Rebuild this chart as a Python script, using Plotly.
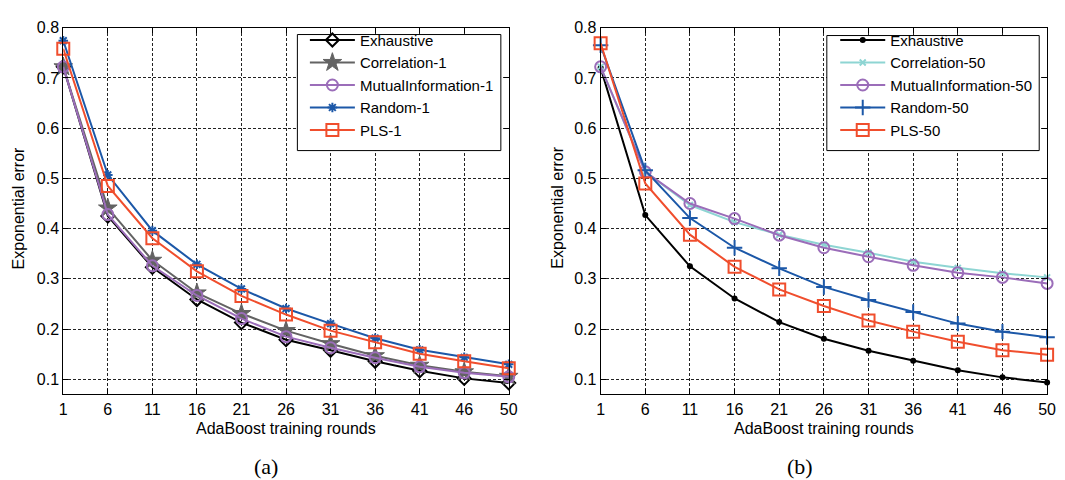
import plotly.graph_objects as go

x_labels = ["1", "6", "11", "16", "21", "26", "31", "36", "41", "46", "50"]
x_idx = list(range(len(x_labels)))

# (a) one feature per round
exh_a = [0.722, 0.425, 0.323, 0.259, 0.213, 0.179, 0.158, 0.136, 0.117, 0.102, 0.093]
corr_a = [0.722, 0.441, 0.337, 0.272, 0.231, 0.197, 0.171, 0.147, 0.128, 0.115, 0.106]
mi_a = [0.722, 0.428, 0.326, 0.267, 0.221, 0.185, 0.163, 0.143, 0.125, 0.113, 0.105]
rand_a = [0.774, 0.507, 0.396, 0.329, 0.280, 0.241, 0.211, 0.182, 0.159, 0.144, 0.130]
pls_a = [0.758, 0.485, 0.381, 0.315, 0.266, 0.229, 0.197, 0.174, 0.151, 0.136, 0.122]

# (b) fifty features
exh_b = [0.720, 0.427, 0.325, 0.261, 0.214, 0.181, 0.157, 0.137, 0.118, 0.104, 0.094]
corr_b = [0.722, 0.513, 0.447, 0.413, 0.388, 0.368, 0.352, 0.334, 0.322, 0.311, 0.303]
mi_b = [0.722, 0.513, 0.450, 0.420, 0.387, 0.362, 0.344, 0.327, 0.312, 0.303, 0.291]
rand_b = [0.765, 0.516, 0.421, 0.362, 0.321, 0.284, 0.258, 0.234, 0.211, 0.195, 0.184]
pls_b = [0.769, 0.490, 0.388, 0.324, 0.279, 0.246, 0.217, 0.195, 0.175, 0.158, 0.149]

names_a = ["Exhaustive", "Correlation-1", "MutualInformation-1", "Random-1", "PLS-1"]
names_b = ["Exhaustive", "Correlation-50", "MutualInformation-50", "Random-50", "PLS-50"]

BLACK = "#000000"
GRAY = "#636363"
PURPLE = "#9B6DB9"
BLUE = "#1C58A8"
RED = "#F04E2D"
CYAN = "#8ED5D3"

W, H = 1065, 480
FONT = "Liberation Sans, Arial, sans-serif"
Y_MIN, Y_MAX = 0.07, 0.8
PLOT_TOP, PLOT_BOT = 20, 393
LEFT_X = (60, 511)
RIGHT_X = (604, 1056)

def px_x(p):
    return p / W

def px_y(p):
    return 1 - p / H

def data_x(p, span):
    return (p - span[0]) / (span[1] - span[0]) * (len(x_idx) - 1)

def data_y(p):
    return Y_MAX - (p - PLOT_TOP) / (PLOT_BOT - PLOT_TOP) * (Y_MAX - Y_MIN)

fig = go.Figure()

def add(y, name, color, symbol, size, xa, ya, legend, lw=2, mlw=2):
    fig.add_trace(go.Scatter(
        x=x_idx, y=y, name=name, mode="lines+markers",
        line=dict(color=color, width=lw),
        marker=dict(symbol=symbol, size=size, color=color,
                    line=dict(color=color, width=mlw)),
        xaxis=xa, yaxis=ya, legend=legend, cliponaxis=False,
    ))

add(exh_a, names_a[0], BLACK, "diamond-open", 10, "x", "y", "legend")
add(corr_a, names_a[1], GRAY, "star", 14, "x", "y", "legend", mlw=1)
add(mi_a, names_a[2], PURPLE, "circle-open", 11, "x", "y", "legend")
add(rand_a, names_a[3], BLUE, "asterisk-open", 8, "x", "y", "legend")
add(pls_a, names_a[4], RED, "square-open", 12, "x", "y", "legend")

add(exh_b, names_b[0], BLACK, "circle", 6, "x2", "y2", "legend2", mlw=0)
add(corr_b, names_b[1], CYAN, "x-thin-open", 6, "x2", "y2", "legend2")
add(mi_b, names_b[2], PURPLE, "circle-open", 11, "x2", "y2", "legend2")
add(rand_b, names_b[3], BLUE, "cross-thin-open", 11, "x2", "y2", "legend2")
add(pls_b, names_b[4], RED, "square-open", 12, "x2", "y2", "legend2")

ytick = [0.1, 0.2, 0.3, 0.4, 0.5, 0.6, 0.7, 0.8]
common_axis = dict(
    showline=True, linecolor="black", linewidth=1, mirror="ticks",
    ticks="inside", ticklen=5, tickcolor="black",
    showgrid=True, gridcolor="#222222", gridwidth=1, griddash="3px,2px",
    zeroline=False, tickfont=dict(family=FONT, size=16, color="black"),
)

y_dom = [px_y(PLOT_BOT), px_y(PLOT_TOP)]
legend_common = dict(xanchor="right", yanchor="top",
                     borderwidth=0, bgcolor="rgba(0,0,0,0)",
                     font=dict(family=FONT, size=15, color="black"), itemwidth=45,
                     tracegroupgap=0)
fig.update_layout(
    width=W, height=H, margin=dict(l=0, r=0, t=0, b=0),
    paper_bgcolor="white", plot_bgcolor="white",
    font=dict(family=FONT, size=16, color="black"),
    xaxis=dict(domain=[px_x(LEFT_X[0]), px_x(LEFT_X[1])], range=[0, 10], tickvals=x_idx,
               ticktext=x_labels, anchor="y", **common_axis),
    yaxis=dict(domain=y_dom, range=[Y_MIN, Y_MAX], tickvals=ytick,
               ticktext=[f"{v:.1f}" for v in ytick], anchor="x", **common_axis),
    xaxis2=dict(domain=[px_x(RIGHT_X[0]), px_x(RIGHT_X[1])], range=[0, 10], tickvals=x_idx,
                ticktext=x_labels, anchor="y2", **common_axis),
    yaxis2=dict(domain=y_dom, range=[Y_MIN, Y_MAX], tickvals=ytick,
                ticktext=[f"{v:.1f}" for v in ytick], anchor="x2", **common_axis),
    legend=dict(x=px_x(501), y=px_y(16), **legend_common),
    legend2=dict(x=px_x(1046), y=px_y(16), **legend_common),
    showlegend=True,
)

# legend frames (white boxes; the legend itself is drawn on top of them)
for (x0p, x1p, y0p, y1p), span, xr, yr in [
    ((297, 503, 27, 145), LEFT_X, "x", "y"),
    ((833, 1048, 28, 145), RIGHT_X, "x2", "y2"),
]:
    fig.add_shape(type="rect", xref=xr, yref=yr, layer="above",
                  x0=data_x(x0p, span), x1=data_x(x1p, span),
                  y0=data_y(y1p), y1=data_y(y0p),
                  fillcolor="white", line=dict(color="black", width=1))

ann = [
    dict(text="AdaBoost training rounds", x=px_x(285), y=px_y(428)),
    dict(text="AdaBoost training rounds", x=px_x(830), y=px_y(428)),
    dict(text="Exponential error", x=px_x(15), y=px_y(203), textangle=-90),
    dict(text="Exponential error", x=px_x(560), y=px_y(203), textangle=-90),
]
for a in ann:
    fig.add_annotation(xref="paper", yref="paper", showarrow=False,
                       xanchor="center", yanchor="middle",
                       font=dict(family=FONT, size=16, color="black"), **a)
for t, xc in [("(a)", 265), ("(b)", 806)]:
    fig.add_annotation(xref="paper", yref="paper", showarrow=False, text=t,
                       x=px_x(xc), y=px_y(466), xanchor="center", yanchor="middle",
                       font=dict(family="Liberation Serif, Times New Roman, serif", size=22, color="black"))

fig.write_html("out.html")
